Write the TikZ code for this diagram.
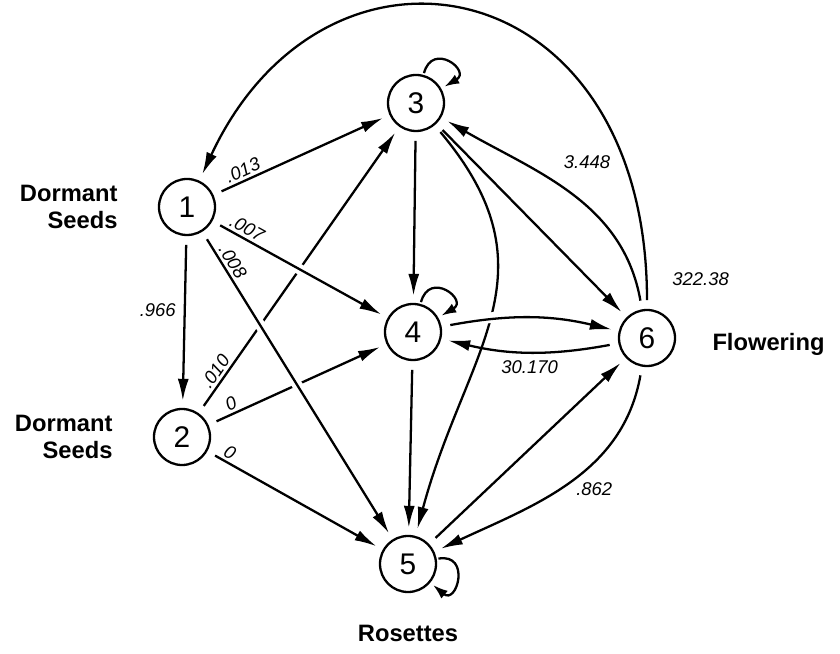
\documentclass[tikz,border=0pt]{standalone}
\usepackage{fontspec}
\setmainfont{Liberation Sans}
\usepackage{tikz}
\usetikzlibrary{arrows.meta,positioning}

\tikzset{
  stage/.style={draw,circle,line width=1.3pt,minimum size=1.12cm,inner sep=0pt,font=\fontsize{17}{17}\selectfont},
  stagename/.style={align=right,inner sep=0pt,font=\fontsize{13.5}{15.5}\selectfont\bfseries},
  rate/.style={font=\fontsize{10.5}{10.5}\selectfont\itshape,inner sep=1.5pt},
  arr/.style={line width=1.3pt,shorten <=5pt,shorten >=4pt,-{Latex[length=4.4mm,width=2.2mm]}},
  bridge/.style={preaction={draw,white,line width=6pt,-,shorten <=0.9cm,shorten >=0.9cm}},
  selfloop/.style={min distance=7mm,looseness=1,shorten <=1pt,shorten >=2pt,-{Latex[length=3mm,width=2mm]}}
}

\begin{document}
\begin{tikzpicture}
\useasboundingbox (0,0) rectangle (16.8,13.08);

\node[stage] (n1) at (3.74,8.94) {1};
\node[stage] (n2) at (3.64,4.34) {2};
\node[stage] (n3) at (8.32,11.02) {3};
\node[stage] (n4) at (8.26,6.44) {4};
\node[stage] (n5) at (8.16,1.80) {5};
\node[stage] (n6) at (12.94,6.32) {6};

\node[stagename,left=0.8cm of n1] (lab1) {Dormant\\Seeds};
\node[stagename,left=0.8cm of n2] (lab2) {Dormant\\Seeds};
\node[stagename,right=0.72cm of n6,yshift=-0.12cm] (lab6) {Flowering};
\node[stagename,below=0.64cm of n5] (lab5) {Rosettes};

% lines that pass under others
\draw[arr] (n2) -- node[rate,sloped,above,pos=0.125] {.010} (n3);
\draw[arr] (n2) -- node[rate,sloped,above,pos=0.15] {0} (n4);
\draw[arr] (n3) to[out=-50,in=75,looseness=1.2] (n5);

\draw[arr,bridge] (n1) -- node[rate,sloped,above,pos=0.17] {.007} (n4);
\draw[arr,bridge] (n1) -- node[rate,sloped,above,pos=0.115] {.008} (n5);
\draw[arr,bridge] (n4) to[bend left=12] (n6);
\draw[arr,bridge] (n6) to[bend left=12] node[rate,below=3pt] {30.170} (n4);

\draw[arr] (n1) -- node[rate,sloped,above,pos=0.19] {.013} (n3);
\draw[arr] (n1) -- node[rate,left=3pt,pos=0.43] {.966} (n2);
\draw[arr] (n2) -- node[rate,sloped,above,pos=0.1] {0} (n5);
\draw[arr] (n3) -- (n4);
\draw[arr] (n3) -- (n6);
\draw[arr] (n4) -- (n5);
\draw[arr] (n5) -- (n6);

\draw[arr] (n6) to[out=100,in=-30] node[rate,pos=0.57,above right=0.2cm and 0.12cm] {3.448} (n3);
\draw[arr] (n6) .. controls +(90:7.4) and +(65:6.6) .. node[rate,pos=0.03,right=0.45cm] {322.38} (n1);
\draw[arr] (n6) to[out=-100,in=25] node[rate,pos=0.48,below right] {.862} (n5);

\draw[selfloop,line width=1.3pt] (n3) to[out=75,in=30] (n3);
\draw[selfloop,line width=1.3pt] (n4) to[out=75,in=30] (n4);
\draw[selfloop,line width=1.3pt] (n5) to[out=10,in=-40] (n5);

\end{tikzpicture}
\end{document}
